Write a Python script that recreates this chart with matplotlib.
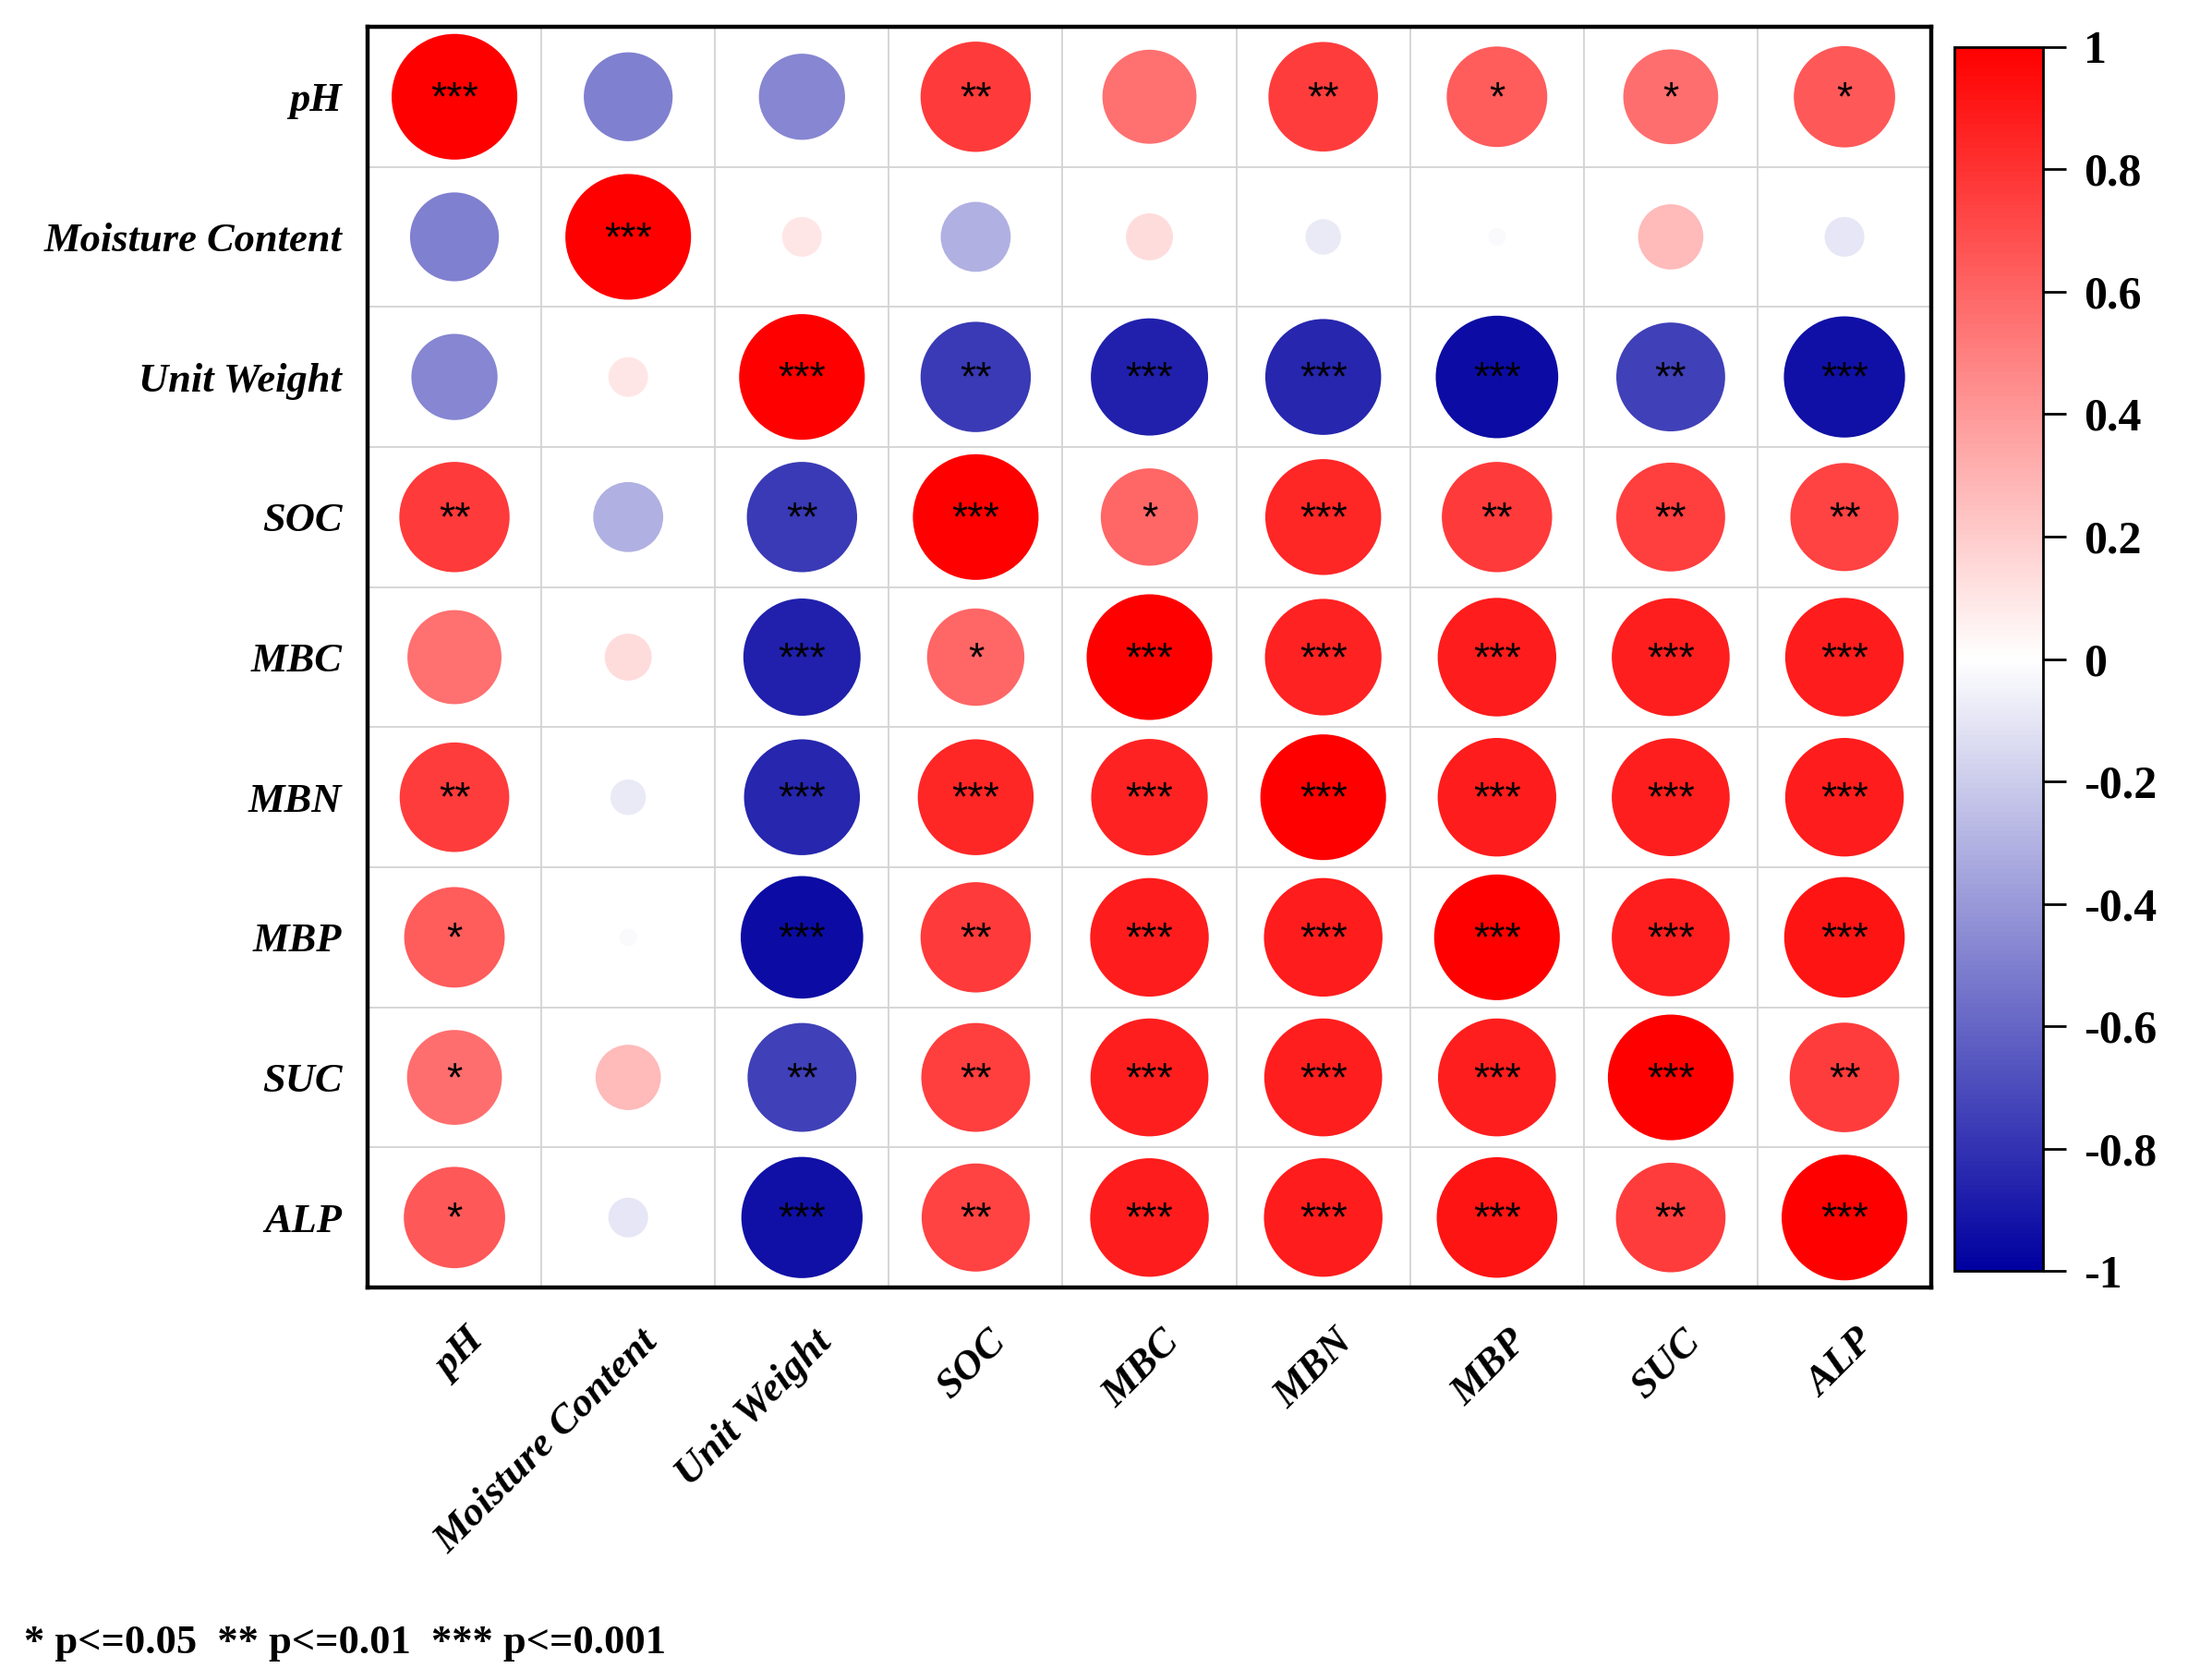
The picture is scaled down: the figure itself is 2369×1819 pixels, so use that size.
import numpy as np
import matplotlib
matplotlib.use("Agg")
import matplotlib.pyplot as plt
from matplotlib.colors import LinearSegmentedColormap, Normalize
from matplotlib.cm import ScalarMappable
from matplotlib.transforms import ScaledTranslation

# ----------------- data -----------------
labels = ["pH", "Moisture Content", "Unit Weight", "SOC", "MBC",
          "MBN", "MBP", "SUC", "ALP"]

r_ph  = [1.00, -0.50, -0.47, 0.77, 0.56, 0.76, 0.64, 0.57, 0.65]
r_mc  = [-0.50, 1.00, 0.10, -0.31, 0.14, -0.08, -0.02, 0.27, -0.10]
r_uw  = [-0.47, 0.10, 1.00, -0.77, -0.87, -0.85, -0.95, -0.75, -0.93]
r_soc = [0.77, -0.31, -0.77, 1.00, 0.60, 0.85, 0.77, 0.75, 0.74]
r_mbc = [0.56, 0.14, -0.87, 0.60, 1.00, 0.86, 0.89, 0.88, 0.89]
r_mbn = [0.76, -0.08, -0.85, 0.85, 0.86, 1.00, 0.89, 0.88, 0.89]
r_mbp = [0.64, -0.02, -0.95, 0.77, 0.89, 0.89, 1.00, 0.88, 0.92]
r_suc = [0.57, 0.27, -0.75, 0.75, 0.88, 0.88, 0.88, 1.00, 0.76]
r_alp = [0.65, -0.10, -0.93, 0.74, 0.89, 0.89, 0.92, 0.76, 1.00]

sig_ph  = ["***", "", "", "**", "", "**", "*", "*", "*"]
sig_mc  = ["", "***", "", "", "", "", "", "", ""]
sig_uw  = ["", "", "***", "**", "***", "***", "***", "**", "***"]
sig_soc = ["**", "", "**", "***", "*", "***", "**", "**", "**"]
sig_mbc = ["", "", "***", "*", "***", "***", "***", "***", "***"]
sig_mbn = ["**", "", "***", "***", "***", "***", "***", "***", "***"]
sig_mbp = ["*", "", "***", "**", "***", "***", "***", "***", "***"]
sig_suc = ["*", "", "**", "**", "***", "***", "***", "***", "**"]
sig_alp = ["*", "", "***", "**", "***", "***", "***", "**", "***"]

cbar_ticks = [-1, -0.8, -0.6, -0.4, -0.2, 0, 0.2, 0.4, 0.6, 0.8, 1]
cbar_labels = ["-1", "-0.8", "-0.6", "-0.4", "-0.2", "0",
               "0.2", "0.4", "0.6", "0.8", "1"]
note_text = "* p<=0.05  ** p<=0.01  *** p<=0.001"

R = np.array([r_ph, r_mc, r_uw, r_soc, r_mbc, r_mbn, r_mbp, r_suc, r_alp])
S = [sig_ph, sig_mc, sig_uw, sig_soc, sig_mbc, sig_mbn, sig_mbp, sig_suc, sig_alp]
n = len(labels)

# ----------------- style -----------------
plt.rcParams["axes.unicode_minus"] = False
serif = ["Liberation Serif", "DejaVu Serif"]
cmap = LinearSegmentedColormap.from_list("bwr_corr", ["#0000A0", "#FFFFFF", "#FF0000"])
norm = Normalize(vmin=-1, vmax=1)

fig = plt.figure(figsize=(23.69, 18.19), dpi=100)
ax = fig.add_axes([0.168, 0.2336, 0.7147, 0.7505])
cax = fig.add_axes([0.8932, 0.2435, 0.0405, 0.7285])

# ----------------- circles -----------------
xx, yy = np.meshgrid(np.arange(n), np.arange(n))
ax.scatter(xx.ravel(), yy.ravel(), s=9600 * np.abs(R.ravel()),
           c=R.ravel(), cmap=cmap, norm=norm, edgecolors="none", zorder=3)

for i in range(n):
    for j in range(n):
        if S[i][j]:
            ax.text(j, i + 0.02, S[i][j], ha="center", va="center",
                    fontsize=32, family=["Liberation Sans", "DejaVu Sans"],
                    color="black", zorder=4)

# grid
for k in range(1, n):
    ax.axhline(k - 0.5, color="#D3D3D3", lw=1.3, zorder=1)
    ax.axvline(k - 0.5, color="#D3D3D3", lw=1.3, zorder=1)

ax.set_xlim(-0.5, n - 0.5)
ax.set_ylim(n - 0.5, -0.5)
ax.set_xticks(range(n))
ax.set_yticks(range(n))
ax.set_xticklabels(labels, rotation=45, ha="right", va="center",
                   rotation_mode="anchor", fontsize=32,
                   fontweight="bold", fontstyle="italic", family=serif)
ax.set_yticklabels(labels, fontsize=32, fontweight="bold",
                   fontstyle="italic", family=serif)
ax.tick_params(axis="both", length=0)
ax.tick_params(axis="y", pad=20)
ax.tick_params(axis="x", pad=28)
shift = ScaledTranslation(0.26, -0.14, fig.dpi_scale_trans)
for lab in ax.get_xticklabels():
    lab.set_transform(lab.get_transform() + shift)
for sp in ax.spines.values():
    sp.set_linewidth(3.2)

# ----------------- colorbar -----------------
cb = fig.colorbar(ScalarMappable(norm=norm, cmap=cmap), cax=cax)
cb.set_ticks(cbar_ticks)
cb.set_ticklabels(cbar_labels)
cb.outline.set_linewidth(2)
cax.tick_params(length=18, width=2, pad=14)
for t in cax.get_yticklabels():
    t.set_fontsize(36)
    t.set_fontweight("bold")
    t.set_family(serif)

fig.text(0.011, 0.016, note_text, ha="left", va="baseline",
         fontsize=32, fontweight="bold", family=serif)

fig.savefig("out.png", dpi=100)
